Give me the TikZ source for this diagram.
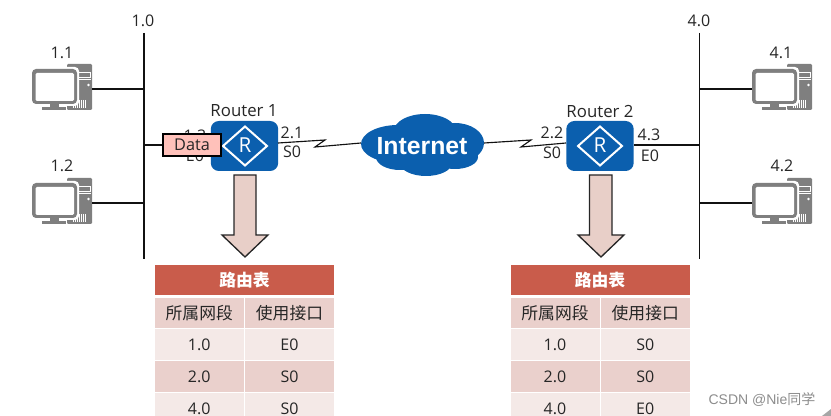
\documentclass[tikz,border=0pt]{standalone}
\usepackage{fontspec}
\setmainfont{Open Sans}
\newfontfamily\cjk{Noto Sans CJK SC}
\newfontfamily\wmfont{Liberation Sans}
\usetikzlibrary{calc}
\definecolor{rblue}{HTML}{0B5FAE}
\definecolor{pcgray}{HTML}{7F7F7F}
\definecolor{thead}{HTML}{C95C4B}
\definecolor{rowa}{HTML}{EAD0CC}
\definecolor{rowb}{HTML}{F4E9E7}
\definecolor{arrowfill}{HTML}{E8CFC8}
\definecolor{datafill}{HTML}{FFC1BA}
\definecolor{linkdark}{HTML}{111111}
\tikzset{
  lab/.style={font=\fontsize{12pt}{13pt}\selectfont, text=black!85, inner sep=0pt},
  rlab/.style={font=\fontsize{12.6pt}{13pt}\selectfont, text=black!85, inner sep=0pt},
  wire/.style={draw=linkdark, line width=1.1pt},
  serial/.style={draw=linkdark, line width=0.85pt, line join=miter},
  routerbox/.style={fill=rblue, rounded corners=6pt, minimum width=50.5pt, minimum height=37.5pt, inner sep=0pt},
  databox/.style={draw=black, line width=1pt, fill=datafill, minimum width=43.5pt, minimum height=16.5pt, inner sep=0pt, font=\fontsize{12.2pt}{13pt}\selectfont, text=black!85},
  blockarrow/.style={draw=black!85, line width=1pt, fill=arrowfill, line join=miter},
  cellbox/.style={inner sep=0pt, text=black!85, font=\fontsize{12pt}{13pt}\selectfont},
  pc/.pic={
    \fill[pcgray, rounded corners=0.8pt] (-25,-25) rectangle (0,21);
    \fill[white] (-14,-17) rectangle (-1,-11);
    \fill[pcgray] (-13,-16) rectangle (-2,-12);
    \fill[white] (-14,-9.5) rectangle (-1,-9);
    \fill[white] (-3.5,-4) circle (1.3);
    \foreach \vx in {-19,-17,-15,-13,-11,-9,-7}{\draw[white, line width=0.4pt] (\vx,11) -- (\vx,19);}
    \fill[white, rounded corners=3pt] (-62,-22) rectangle (-13,17);
    \fill[pcgray, rounded corners=3pt] (-60,-20) rectangle (-15,15);
    \fill[white, rounded corners=1pt] (-56.5,-16) rectangle (-18,12);
    \fill[pcgray] (-42,15) rectangle (-33,18);
    \fill[pcgray] (-50,18) rectangle (-26,21);
    \coordinate (-port) at (0,0);
  }
}
\newcommand{\tcell}[7]{\node[cellbox, fill=#6, minimum width={(#4-#2)*0.75pt}, minimum height={(#5-#3)*0.75pt}] (#1) at ({(#2+#4)/2},{(#3+#5)/2}) {#7};}
\newcommand{\rtable}[6]{%
  \pgfmathsetmacro{\tblr}{#2+179}
  \pgfmathsetmacro{\tblm}{#3+1.5}
  \tcell{#1h}{#2}{265}{\tblr}{295}{thead}{\fontsize{12.6pt}{13pt}\cjk\bfseries\color{white}路由表}
  \tcell{#1a}{#2}{298}{#3}{328}{rowa}{\fontsize{12.6pt}{13pt}\cjk 所属网段}
  \tcell{#1b}{\tblm}{298}{\tblr}{328}{rowa}{\fontsize{12.6pt}{13pt}\cjk 使用接口}
  \tcell{#1c}{#2}{329}{#3}{360}{rowb}{1.0}
  \tcell{#1d}{\tblm}{329}{\tblr}{360}{rowb}{#4}
  \tcell{#1e}{#2}{361}{#3}{392}{rowa}{2.0}
  \tcell{#1f}{\tblm}{361}{\tblr}{392}{rowa}{#5}
  \tcell{#1g}{#2}{393}{#3}{424}{rowb}{4.0}
  \tcell{#1i}{\tblm}{393}{\tblr}{424}{rowb}{#6}
}
\newcommand{\routerglyph}[1]{%
  \draw[white, line width=1.5pt, line join=miter] ($(#1)+(-22,0)$) -- ($(#1)+(0,-19.5)$) -- ($(#1)+(22,0)$) -- ($(#1)+(0,19.5)$) -- cycle;
  \node[font=\fontsize{15.5pt}{16pt}\selectfont, text=white, inner sep=0pt] at ($(#1)+(0,-0.5)$) {R};
}
\begin{document}
\begin{tikzpicture}[x=0.75pt,y=-0.75pt]
\useasboundingbox (0,0) rectangle (831,416);
\clip (0,0) rectangle (831,416);
% buses
\coordinate (bus1t) at (144,33);
\coordinate (bus1b) at (144,259);
\coordinate (bus4t) at (699.5,33);
\coordinate (bus4b) at (699.5,259);
\draw[wire] (bus1t) -- (bus1b);
\draw[wire] (bus4t) -- (bus4b);
\node[lab] at (143,21) {1.0};
\node[lab] at (699,21) {4.0};
% computers
\pic (pa) at (92,89) {pc};
\pic (pb) at (92,203) {pc};
\pic (pc) at (812,89) {pc};
\pic (pd) at (812,203) {pc};
\draw[wire] (pa-port) -- (pa-port -| bus1t);
\draw[wire] (pb-port) -- (pb-port -| bus1t);
\coordinate (pcport) at (752,89);
\coordinate (pdport) at (752,203);
\draw[wire] (pcport) -- (pcport -| bus4t);
\draw[wire] (pdport) -- (pdport -| bus4t);
\node[lab] at (62,53) {1.1};
\node[lab] at (62,166) {1.2};
\node[lab] at (781,53) {4.1};
\node[lab] at (782,166) {4.2};
% routers
\node[routerbox] (r1) at (244.5,146) {};
\node[routerbox] (r2) at (600,146) {};
\routerglyph{245,146}
\routerglyph{600,146}
\node[rlab] at (244,111) {Router 1};
\node[rlab] at (600,112) {Router 2};
% labels under the data box
\node[lab] at (195,136) {1.3};
\node[lab] at (195,156) {E0};
\node[lab] at (292,133) {2.1};
\node[lab] at (292,152) {S0};
\node[lab] at (552,133) {2.2};
\node[lab] at (552,153) {S0};
\node[lab] at (649,135) {4.3};
\node[lab] at (650,156) {E0};
% cloud
\fill[rblue] (398,144) ellipse [x radius=37, y radius=19]
  (425,131) ellipse [x radius=31, y radius=17]
  (455,143) ellipse [x radius=29, y radius=20]
  (400,157) ellipse [x radius=24, y radius=13]
  (426,163) ellipse [x radius=26, y radius=13]
  (455,157) ellipse [x radius=23, y radius=12];
\node[inner sep=0pt, text=white, font=\fontsize{18.6pt}{19pt}\selectfont\wmfont\bfseries] (inet) at (422,146) {Internet};
% serial links
\coordinate (inetl) at (361,143);
\coordinate (inetr) at (484,143);
\coordinate (r1s) at (278,143);
\coordinate (r2s) at (566,143);
\draw[serial] (r1s) -- (325,140) -- (315,147) -- (inetl);
\draw[serial] (inetr) -- (531,140) -- (521,147) -- (r2s);
% links to the buses
\coordinate (r1w) at (163,145);
\coordinate (r2e) at (634,145);
\draw[wire] (r1w) -- (r1w -| bus1t);
\draw[wire] (r2e) -- (r2e -| bus4t);
\node[databox] (data) at (192,145) {Data};
% block arrows
\draw[blockarrow] (234,175) -- (256,175) -- (256,235) -- (268,235) -- (245,257) -- (222,235) -- (234,235) -- cycle;
\draw[blockarrow] (589.5,175) -- (612,175) -- (612,235) -- (624,235) -- (601,257) -- (578,235) -- (589.5,235) -- cycle;
% tables
\rtable{ta}{155}{243.5}{E0}{S0}{S0}
\rtable{tb}{510.5}{599.5}{S0}{S0}{E0}
% watermark
\node[inner sep=0pt, text=black!45, font=\fontsize{10.5pt}{11pt}\selectfont] (mark) at (762,400) {\wmfont CSDN @Nie{\cjk 同学}};
\fill[black!35] (822,416) -- (831,409) -- (831,416) -- cycle;
\end{tikzpicture}
\end{document}
